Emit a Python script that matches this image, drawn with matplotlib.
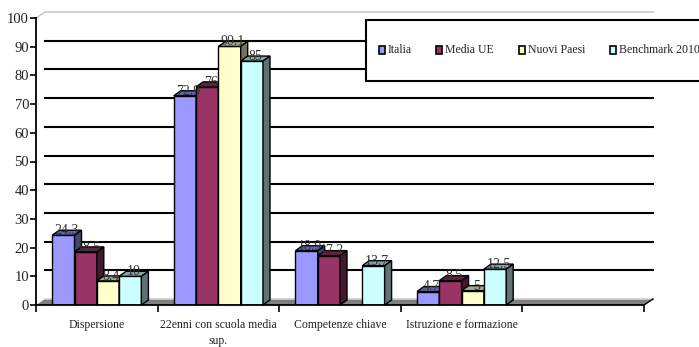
import matplotlib
matplotlib.use('Agg')
import matplotlib.pyplot as plt
from matplotlib.patches import Polygon, Rectangle
import numpy as np

plt.rcParams['font.family'] = ['Liberation Serif', 'DejaVu Serif']

categories = ['Dispersione', '22enni con scuola media\nsup.', 'Competenze chiave',
              'Istruzione e formazione', '']
series = ['Italia', 'Media UE', 'Nuovi Paesi', 'Benchmark 2010']
italia = [24.3, 72.9, 18.9, 4.7, None]
media_ue = [18.5, 76, 17.2, 8.5, None]
nuovi_paesi = [8.4, 90.1, None, 5, None]
benchmark = [10, 85, 13.7, 12.5, None]
values = [italia, media_ue, nuovi_paesi, benchmark]
colors = ['#9999ff', '#993366', '#ffffcc', '#ccffff']

W, H = 699, 347
fig = plt.figure(figsize=(W / 100, H / 100), dpi=100)
ax = fig.add_axes([36 / W, 42 / H, 608 / W, 287 / H])
ax.set_xlim(0, 5)
ax.set_ylim(0, 100)

ux = 5 / 608     # data units per pixel (x)
uy = 100 / 287   # data units per pixel (y)
bw = 22.3 * ux
dx, dy = 7 * ux, 5 * uy        # bar depth
wx, wy = 9 * ux, 6 * uy        # back wall offset


def shade(c, f):
    r, g, b = matplotlib.colors.to_rgb(c)
    return (r * f, g * f, b * f)


# floor and back wall grid
ax.add_patch(Polygon([(0, 0), (5, 0), (5 + wx, wy), (wx, wy)], closed=True,
                     facecolor='#808080', edgecolor='none', zorder=1, clip_on=False))
ax.plot([wx, 5 + wx], [wy, wy], color='#d0d0d0', lw=1.2, zorder=1.5, clip_on=False)
ax.plot([5, 5 + wx], [0, wy], color='black', lw=1, zorder=1.5, clip_on=False)
for v in range(10, 100, 10):
    ax.plot([wx, 5 + wx], [v + wy, v + wy], color='black', lw=1.5, zorder=1, clip_on=False)
ax.plot([wx, 5 + wx], [100 + wy, 100 + wy], color='#c8c8c8', lw=1.2, zorder=1, clip_on=False)
ax.plot([0, wx], [100, 100 + wy], color='#c8c8c8', lw=1, zorder=1, clip_on=False)

# 3d bars
for j, vals in enumerate(values):
    z = 3 + j
    for i, v in enumerate(vals):
        if v is None:
            continue
        x = i + 0.5 - 2 * bw + j * bw
        ax.bar(x, v, width=bw, align='edge', color=colors[j], edgecolor='black',
               lw=1, zorder=z)
        ax.add_patch(Polygon([(x, v), (x + dx, v + dy), (x + bw + dx, v + dy), (x + bw, v)],
                             closed=True, facecolor=shade(colors[j], 0.65),
                             edgecolor='black', lw=1, zorder=z, clip_on=False))
        ax.add_patch(Polygon([(x + bw, 0), (x + bw + dx, dy), (x + bw + dx, v + dy), (x + bw, v)],
                             closed=True, facecolor=shade(colors[j], 0.45),
                             edgecolor='black', lw=1, zorder=z, clip_on=False))
        ax.text(x + bw / 2 + dx / 2, v + 0.4, f'{v:g}', ha='center', va='baseline',
                fontsize=10, color='#333333', zorder=10)

# axes
for s in ['top', 'right']:
    ax.spines[s].set_visible(False)
ax.spines['left'].set_linewidth(1.3)
ax.spines['bottom'].set_linewidth(1.3)
ax.spines['left'].set_zorder(12)
ax.spines['bottom'].set_zorder(12)
ax.set_yticks(range(0, 101, 10))
ax.tick_params(axis='y', direction='out', length=4, width=1.2, labelsize=10.5, pad=1,
               labelcolor='#222222')
ax.set_xticks(range(6))
ax.set_xticklabels([])
ax.tick_params(axis='x', which='major', direction='out', length=5, width=1.2)
ax.set_xticks(np.arange(5) + 0.5, minor=True)
ax.set_xticklabels(categories, minor=True, fontsize=8.5, linespacing=1.5, color='#222222')
ax.tick_params(axis='x', which='minor', length=0, pad=10)

# legend box
ax.add_patch(Rectangle((366 / W, (H - 81) / H), 400 / W, 61 / H, transform=fig.transFigure,
                       facecolor='white', edgecolor='black', lw=1.5, zorder=20, clip_on=False))
leg_x = [379, 436, 519, 610]
for j, name in enumerate(series):
    ax.add_patch(Rectangle((leg_x[j] / W, (H - 53.5) / H), 6 / W, 7 / H,
                           transform=fig.transFigure, facecolor=colors[j], edgecolor='black',
                           lw=1.2, zorder=21, clip_on=False))
    fig.text((leg_x[j] + 9) / W, (H - 50) / H, name, fontsize=8.5,
             va='center', ha='left', color='#222222', zorder=22)

fig.savefig('out.png', dpi=100)
